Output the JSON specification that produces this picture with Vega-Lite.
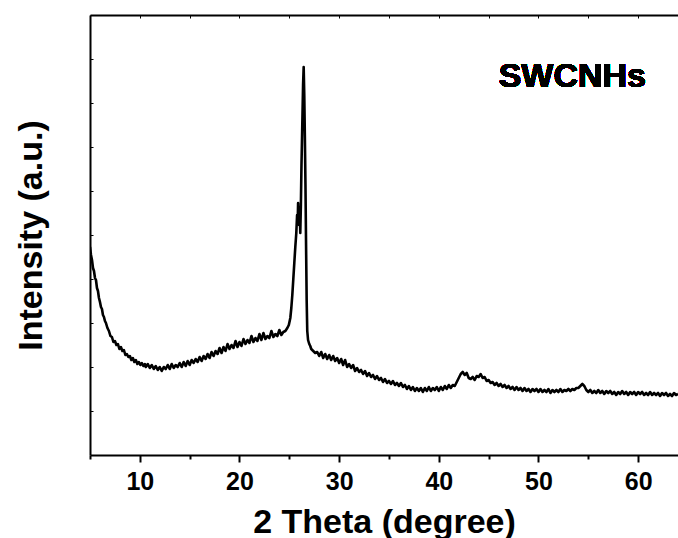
{
  "$schema": "https://vega.github.io/schema/vega-lite/v6.json",
  "width": 588,
  "height": 440,
  "autosize": "none",
  "padding": {"left": 90, "top": 15, "right": 0, "bottom": 83},
  "background": "white",
  "config": {
    "view": {"stroke": null},
    "font": "Liberation Sans"
  },
  "data": {"values": [
    {"t":5.0,"i":208},{"t":5.1,"i":200},{"t":5.2,"i":195},{"t":5.3,"i":187},{"t":5.4,"i":184},{"t":5.5,"i":177},{"t":5.6,"i":175},{"t":5.7,"i":167},{"t":5.8,"i":164},{"t":5.9,"i":157},{"t":6.0,"i":153},{"t":6.1,"i":148},{"t":6.2,"i":146},{"t":6.3,"i":140},{"t":6.4,"i":138},{"t":6.5,"i":134},{"t":6.6,"i":132},{"t":6.75,"i":127},{"t":6.9,"i":124},{"t":7.05,"i":119},{"t":7.2,"i":118},
    {"t":7.35,"i":113},{"t":7.5,"i":114},{"t":7.65,"i":110},{"t":7.8,"i":111},{"t":7.95,"i":106},{"t":8.1,"i":108},{"t":8.25,"i":104},{"t":8.4,"i":105},{"t":8.55,"i":100},{"t":8.7,"i":101},{"t":8.85,"i":98},{"t":9.0,"i":99},{"t":9.15,"i":95},{"t":9.3,"i":97},{"t":9.45,"i":93},{"t":9.6,"i":95},{"t":9.75,"i":91},{"t":9.9,"i":93},{"t":10.05,"i":90},{"t":10.2,"i":92},{"t":10.35,"i":89},{"t":10.5,"i":91},
    {"t":10.6,"i":88},{"t":10.8,"i":91},{"t":11.0,"i":87},{"t":11.2,"i":90},{"t":11.4,"i":86},{"t":11.6,"i":89},{"t":11.8,"i":85},{"t":12.0,"i":88},{"t":12.2,"i":84},{"t":12.4,"i":88},{"t":12.6,"i":86},{"t":12.8,"i":90},{"t":13.0,"i":86},{"t":13.2,"i":91},{"t":13.4,"i":87},{"t":13.6,"i":90},{"t":13.8,"i":88},{"t":14.0,"i":92},{"t":14.2,"i":88},{"t":14.4,"i":93},{"t":14.6,"i":89},{"t":14.8,"i":94},{"t":15.0,"i":90},{"t":15.2,"i":95},{"t":15.4,"i":92},{"t":15.6,"i":96},{"t":15.8,"i":93},{"t":16.0,"i":98},{"t":16.2,"i":94},{"t":16.4,"i":99},{"t":16.6,"i":96},{"t":16.8,"i":101},{"t":17.0,"i":97},{"t":17.2,"i":103},{"t":17.4,"i":99},{"t":17.6,"i":104},{"t":17.8,"i":101},{"t":18.0,"i":107},{"t":18.2,"i":102},{"t":18.4,"i":108},{"t":18.6,"i":104},{"t":18.8,"i":111},{"t":19.0,"i":106},{"t":19.2,"i":110},{"t":19.4,"i":107},{"t":19.6,"i":114},{"t":19.8,"i":108},{"t":20.0,"i":113},{"t":20.2,"i":109},{"t":20.4,"i":116},{"t":20.6,"i":111},{"t":20.8,"i":115},{"t":21.0,"i":112},{"t":21.2,"i":119},{"t":21.4,"i":113},{"t":21.6,"i":117},{"t":21.8,"i":114},{"t":22.0,"i":121},{"t":22.2,"i":115},{"t":22.4,"i":122},{"t":22.6,"i":116},{"t":22.8,"i":119},{"t":23.0,"i":117},{"t":23.2,"i":124},{"t":23.4,"i":118},{"t":23.6,"i":121},{"t":23.8,"i":119},{"t":24.0,"i":125},{"t":24.2,"i":120},{"t":24.4,"i":123},{"t":24.6,"i":124},{"t":24.8,"i":127},{"t":24.95,"i":130},
    {"t":25.1,"i":137},{"t":25.2,"i":147},{"t":25.3,"i":160},{"t":25.4,"i":176},{"t":25.5,"i":192},{"t":25.6,"i":208},{"t":25.7,"i":222},{"t":25.78,"i":240},{"t":25.84,"i":232},{"t":25.88,"i":252},{"t":25.93,"i":240},{"t":25.98,"i":230},{"t":26.04,"i":245},{"t":26.1,"i":222},{"t":26.16,"i":250},{"t":26.22,"i":290},{"t":26.3,"i":330},{"t":26.38,"i":370},{"t":26.44,"i":388},{"t":26.5,"i":360},{"t":26.56,"i":318},{"t":26.62,"i":270},{"t":26.68,"i":210},{"t":26.74,"i":155},{"t":26.8,"i":124},{"t":26.88,"i":115},{"t":27.0,"i":111},{"t":27.1,"i":109},{"t":27.2,"i":106},{"t":27.4,"i":104},{"t":27.6,"i":102},{"t":27.8,"i":103},
    {"t":28.0,"i":99},{"t":28.2,"i":103},{"t":28.4,"i":97},{"t":28.6,"i":101},{"t":28.8,"i":96},{"t":29.0,"i":100},{"t":29.2,"i":95},{"t":29.4,"i":99},{"t":29.6,"i":94},{"t":29.8,"i":97},{"t":30.0,"i":92},{"t":30.2,"i":96},{"t":30.4,"i":90},{"t":30.6,"i":95},{"t":30.8,"i":88},{"t":31.0,"i":91},{"t":31.2,"i":87},{"t":31.4,"i":90},{"t":31.6,"i":84},{"t":31.8,"i":87},{"t":32.0,"i":83},{"t":32.2,"i":85},{"t":32.4,"i":81},{"t":32.6,"i":84},{"t":32.8,"i":79},{"t":33.0,"i":82},{"t":33.2,"i":78},{"t":33.4,"i":80},{"t":33.6,"i":76},{"t":33.8,"i":79},{"t":34.0,"i":75},{"t":34.2,"i":77},{"t":34.4,"i":73},{"t":34.6,"i":76},{"t":34.8,"i":72},{"t":35.0,"i":74},{"t":35.2,"i":71},{"t":35.4,"i":74},{"t":35.6,"i":70},{"t":35.8,"i":72},{"t":36.0,"i":69},{"t":36.2,"i":72},{"t":36.4,"i":68},{"t":36.6,"i":70},{"t":36.8,"i":66},{"t":37.0,"i":69},{"t":37.2,"i":65},{"t":37.4,"i":68},{"t":37.6,"i":64},{"t":37.8,"i":67},{"t":38.0,"i":64},{"t":38.2,"i":67},{"t":38.4,"i":63},{"t":38.6,"i":67},{"t":38.8,"i":64},{"t":39.0,"i":68},{"t":39.2,"i":64},{"t":39.4,"i":67},{"t":39.6,"i":65},{"t":39.8,"i":68},{"t":40.0,"i":64},{"t":40.2,"i":68},{"t":40.4,"i":65},{"t":40.6,"i":69},{"t":40.8,"i":66},{"t":41.0,"i":70},{"t":41.2,"i":67},{"t":41.4,"i":70},{"t":41.6,"i":69},{"t":41.8,"i":73},{"t":42.0,"i":77},{"t":42.2,"i":81},{"t":42.4,"i":83},{"t":42.6,"i":80},{"t":42.8,"i":82},{"t":43.0,"i":77},{"t":43.2,"i":76},{"t":43.4,"i":78},{"t":43.6,"i":75},{"t":43.8,"i":79},{"t":44.0,"i":78},{"t":44.2,"i":81},{"t":44.4,"i":77},{"t":44.6,"i":78},{"t":44.8,"i":74},{"t":45.0,"i":75},{"t":45.2,"i":72},{"t":45.4,"i":73},{"t":45.6,"i":70},{"t":45.8,"i":72},{"t":46.0,"i":69},{"t":46.2,"i":71},{"t":46.4,"i":68},{"t":46.6,"i":70},{"t":46.8,"i":67},{"t":47.0,"i":69},{"t":47.2,"i":66},{"t":47.4,"i":68},{"t":47.6,"i":65},{"t":47.8,"i":68},{"t":48.0,"i":65},{"t":48.2,"i":67},{"t":48.4,"i":64},{"t":48.6,"i":67},{"t":48.8,"i":64},{"t":49.0,"i":66},{"t":49.2,"i":63},{"t":49.4,"i":66},{"t":49.6,"i":64},{"t":49.8,"i":66},{"t":50.0,"i":63},{"t":50.2,"i":66},{"t":50.4,"i":63},{"t":50.6,"i":65},{"t":50.8,"i":63},{"t":51.0,"i":66},{"t":51.2,"i":62},{"t":51.4,"i":65},{"t":51.6,"i":63},{"t":51.8,"i":65},{"t":52.0,"i":63},{"t":52.2,"i":66},{"t":52.4,"i":63},{"t":52.6,"i":65},{"t":52.8,"i":64},{"t":53.0,"i":66},{"t":53.2,"i":64},{"t":53.4,"i":66},{"t":53.6,"i":65},{"t":53.8,"i":67},{"t":54.0,"i":67},{"t":54.2,"i":69},{"t":54.4,"i":71},{"t":54.6,"i":69},{"t":54.8,"i":65},{"t":55.0,"i":63},{"t":55.2,"i":65},{"t":55.4,"i":62},{"t":55.6,"i":64},{"t":55.8,"i":62},{"t":56.0,"i":65},{"t":56.2,"i":62},{"t":56.4,"i":64},{"t":56.6,"i":61},{"t":56.8,"i":64},{"t":57.0,"i":62},{"t":57.2,"i":64},{"t":57.4,"i":61},{"t":57.6,"i":63},{"t":57.8,"i":60},{"t":58.0,"i":63},{"t":58.2,"i":61},{"t":58.4,"i":64},{"t":58.6,"i":61},{"t":58.8,"i":63},{"t":59.0,"i":60},{"t":59.2,"i":63},{"t":59.4,"i":61},{"t":59.6,"i":63},{"t":59.8,"i":60},{"t":60.0,"i":63},{"t":60.2,"i":61},{"t":60.4,"i":63},{"t":60.6,"i":60},{"t":60.8,"i":62},{"t":61.0,"i":60},{"t":61.2,"i":63},{"t":61.4,"i":60},{"t":61.6,"i":62},{"t":61.8,"i":60},{"t":62.0,"i":62},{"t":62.2,"i":59},{"t":62.4,"i":62},{"t":62.6,"i":60},{"t":62.8,"i":62},{"t":63.0,"i":59},{"t":63.2,"i":61},{"t":63.4,"i":59},{"t":63.6,"i":62},{"t":63.8,"i":60},{"t":64.0,"i":61}
  ]},
  "layer": [
    {
      "mark": {"type": "line", "color": "black", "strokeWidth": 2.6, "strokeJoin": "round", "clip": true},
      "encoding": {
        "x": {
          "field": "t", "type": "quantitative",
          "scale": {"domain": [5, 64], "nice": false, "zero": false},
          "axis": {
            "orient": "bottom",
            "title": "2 Theta (degree)",
            "values": [5, 10, 15, 20, 25, 30, 35, 40, 45, 50, 55, 60],
            "labelExpr": "datum.value % 10 === 0 && datum.value > 5 ? datum.label : ''",
            "grid": false,
            "domainColor": "black", "domainWidth": 2,
            "tickColor": "black", "tickWidth": 2,
            "tickSize": {"condition": {"test": "datum.value % 10 === 0", "value": 7}, "value": 4},
            "labelFont": "Liberation Sans", "labelFontWeight": "bold", "labelFontSize": 25, "labelColor": "black",
            "labelPadding": 7, "labelFlush": false,
            "titleFont": "Liberation Sans", "titleFontWeight": "bold", "titleFontSize": 34, "titleColor": "black",
            "titleY": 77, "titleBaseline": "alphabetic"
          }
        },
        "y": {
          "field": "i", "type": "quantitative",
          "scale": {"domain": [0, 440], "nice": false, "zero": false},
          "axis": {
            "orient": "left",
            "title": "Intensity (a.u.)",
            "values": [44, 88, 132, 176, 220, 264, 308, 352, 396],
            "labels": false,
            "grid": false,
            "domainColor": "black", "domainWidth": 2,
            "tickColor": "black", "tickWidth": 1, "tickSize": -3,
            "titleFont": "Liberation Sans", "titleFontWeight": "bold", "titleFontSize": 34, "titleColor": "black",
            "titleAngle": -90, "titleX": -49, "titleBaseline": "alphabetic"
          }
        }
      }
    },
    {
      "mark": {"type": "text", "text": "SWCNHs", "font": "Liberation Sans", "fontWeight": "bold", "fontSize": 34, "color": "black", "align": "center", "baseline": "alphabetic"},
      "encoding": {
        "x": {
          "datum": 53.4, "type": "quantitative",
          "axis": {
            "orient": "top", "title": null, "labels": false,
            "values": [5, 10, 15, 20, 25, 30, 35, 40, 45, 50, 55, 60],
            "grid": false,
            "domainColor": "black", "domainWidth": 2,
            "tickColor": "black", "tickWidth": 1, "tickSize": -3
          }
        },
        "y": {"datum": 368, "type": "quantitative"}
      }
    }
  ],
  "resolve": {"axis": {"x": "independent"}}
}
